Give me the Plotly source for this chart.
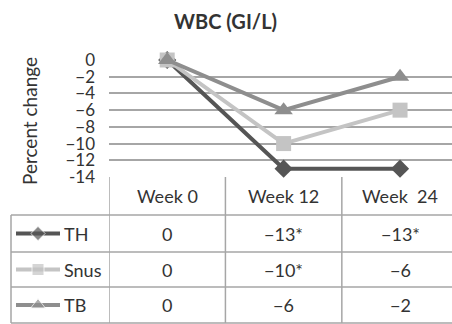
import plotly.graph_objects as go

weeks = ["Week 0", "Week 12", "Week  24"]
series_names = ["TH", "Snus", "TB"]
th_values = [0, -13, -13]
snus_values = [0, -10, -6]
tb_values = [0, -6, -2]
th_labels = ["0", "\u221213*", "\u221213*"]
snus_labels = ["0", "\u221210*", "\u22126"]
tb_labels = ["0", "\u22126", "\u22122"]
y_ticks = [0, -2, -4, -6, -8, -10, -12, -14]
y_tick_text = ["0", "\u22122", "\u22124", "\u22126", "\u22128", "\u221210", "\u221212", "-14"]

W, H = 452, 324
FONT = "Lato"
TXT = "#333333"
GRID = "#a6a6a6"
colors = ["#555555", "#c4c4c4", "#8e8e8e"]
symbols = ["diamond", "square", "triangle-up"]
sizes = [14, 15, 16]
icon_sizes = [11, 12, 13]
values = [th_values, snus_values, tb_values]
labels = [th_labels, snus_labels, tb_labels]

def px(x):
    return x / W

def py(y):
    return 1 - y / H

plot_left, plot_top, plot_bottom = 109, 60, 177
row_edges = [177, 215, 252, 287, 323]
table_left = 11

fig = go.Figure()
xs = list(range(len(weeks)))
for name, vals, c, s, sz in zip(series_names, values, colors, symbols, sizes):
    fig.add_trace(go.Scatter(
        x=xs, y=vals, mode="lines+markers", name=name,
        line=dict(color=c, width=4),
        marker=dict(symbol=s, size=sz, color=c),
        cliponaxis=False, showlegend=False,
    ))

# legend icons inside the table (auxiliary axis in pixel units)
for i, (name, c, s, sz) in enumerate(zip(series_names, colors, symbols, icon_sizes)):
    yc = (row_edges[i + 1] + row_edges[i + 2]) / 2
    fig.add_trace(go.Scatter(
        x=[16, 38, 60], y=[yc, yc, yc], mode="lines+markers",
        line=dict(color=c, width=4),
        marker=dict(symbol=s, size=[0, sz, 0], color=c),
        xaxis="x2", yaxis="y2", showlegend=False, hoverinfo="skip",
    ))

TF = dict(size=18, color=TXT, family=FONT)
annotations = []
for j, w in enumerate(weeks):
    annotations.append(dict(x=j, xref="x", y=py((row_edges[0] + row_edges[1]) / 2), yref="paper",
                            xanchor="center", yanchor="middle", text=w, showarrow=False, font=TF))
for i, (name, labs) in enumerate(zip(series_names, labels)):
    yc = py((row_edges[i + 1] + row_edges[i + 2]) / 2)
    annotations.append(dict(x=px(62), xref="paper", y=yc, yref="paper", xanchor="left",
                            yanchor="middle", text=name, showarrow=False, font=TF))
    for j, lab in enumerate(labs):
        annotations.append(dict(x=j, xref="x", y=yc, yref="paper", xanchor="center",
                                yanchor="middle", text=lab, showarrow=False, font=TF))

annotations.append(dict(x=px(225), y=py(21), xref="paper", yref="paper", xanchor="center",
                        yanchor="middle", text="<b>WBC (GI/L)</b>", showarrow=False,
                        font=dict(size=20, color=TXT, family=FONT)))
annotations.append(dict(x=px(29), y=py(121), xref="paper", yref="paper", xanchor="center",
                        yanchor="middle", text="Percent change", textangle=-90, showarrow=False,
                        font=dict(size=19, color=TXT, family=FONT)))

shapes = []
line_style = dict(color=GRID, width=1.5)
for r in row_edges[1:]:
    shapes.append(dict(type="line", xref="paper", yref="paper", x0=px(table_left), x1=1,
                       y0=py(r), y1=py(r), line=line_style, layer="below"))
for b in [-0.5, 0.5, 1.5]:
    shapes.append(dict(type="line", xref="x", yref="paper", x0=b, x1=b,
                       y0=py(row_edges[0]), y1=py(row_edges[-1]), line=line_style, layer="below"))
shapes.append(dict(type="line", xref="paper", yref="paper", x0=px(table_left), x1=px(table_left),
                   y0=py(row_edges[1]), y1=py(row_edges[-1]), line=line_style, layer="below"))

fig.update_layout(
    width=W, height=H, margin=dict(l=0, r=0, t=0, b=0, autoexpand=False),
    paper_bgcolor="white", plot_bgcolor="rgba(0,0,0,0)",
    xaxis=dict(domain=[px(plot_left), 1], range=[-0.5, (W - 167) / 116.5], automargin=False,
               showgrid=False, zeroline=False, showticklabels=False, showline=False, fixedrange=True),
    yaxis=dict(domain=[py(plot_bottom), py(plot_top)], range=[-14, 0], tickvals=y_ticks,
               ticktext=y_tick_text, showgrid=True, gridcolor=GRID, gridwidth=1.5, zeroline=False,
               showline=False, ticks="", ticklabelstandoff=13, automargin=False,
               tickfont=dict(size=17, color=TXT, family=FONT), fixedrange=True),
    xaxis2=dict(domain=[0, 1], range=[0, W], visible=False, fixedrange=True, automargin=False,
                anchor="y2"),
    yaxis2=dict(domain=[0, 1], range=[H, 0], visible=False, fixedrange=True, anchor="x2",
                automargin=False),
    annotations=annotations, shapes=shapes, showlegend=False,
)
fig.write_html("out.html", config={"displayModeBar": False},
               post_script="document.body.style.margin='0';document.body.style.overflow='hidden';")
